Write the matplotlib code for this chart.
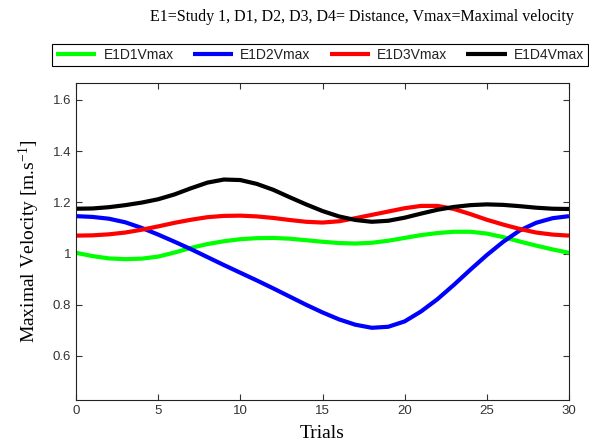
import numpy as np
import matplotlib
matplotlib.use("Agg")
import matplotlib.pyplot as plt
from matplotlib.ticker import FormatStrFormatter

plt.rcParams["mathtext.fontset"] = "custom"
plt.rcParams["mathtext.rm"] = "Liberation Serif"
plt.rcParams["mathtext.it"] = "Liberation Serif:italic"

# Trials and velocity values
trials = list(range(31))

e1d1 = [1.003, 0.990, 0.981, 0.978, 0.980, 0.988, 1.004, 1.022, 1.037, 1.048,
        1.056, 1.060, 1.061, 1.058, 1.052, 1.046, 1.041, 1.039, 1.042, 1.050,
        1.061, 1.072, 1.080, 1.085, 1.085, 1.078, 1.064, 1.047, 1.031, 1.016,
        1.003]
e1d2 = [1.146, 1.143, 1.136, 1.122, 1.100, 1.074, 1.046, 1.017, 0.986, 0.955,
        0.925, 0.895, 0.864, 0.832, 0.800, 0.770, 0.743, 0.722, 0.710, 0.714,
        0.735, 0.774, 0.822, 0.878, 0.937, 0.994, 1.046, 1.090, 1.120, 1.138,
        1.146]
e1d3 = [1.070, 1.071, 1.075, 1.082, 1.093, 1.106, 1.120, 1.132, 1.142, 1.147,
        1.148, 1.145, 1.139, 1.131, 1.124, 1.121, 1.126, 1.138, 1.151, 1.164,
        1.177, 1.186, 1.186, 1.174, 1.154, 1.132, 1.113, 1.096, 1.082, 1.074,
        1.070]
e1d4 = [1.175, 1.176, 1.181, 1.189, 1.199, 1.212, 1.231, 1.255, 1.277, 1.289,
        1.287, 1.272, 1.249, 1.220, 1.192, 1.166, 1.145, 1.131, 1.124, 1.128,
        1.140, 1.156, 1.171, 1.182, 1.189, 1.192, 1.190, 1.185, 1.179, 1.175,
        1.174]

labels = ["E1D1Vmax", "E1D2Vmax", "E1D3Vmax", "E1D4Vmax"]
colors = ["#00ff00", "#0000ff", "#ff0000", "#000000"]

fig = plt.figure(figsize=(5.89, 4.47), dpi=100)
ax = fig.add_axes([76 / 589, 47 / 447, 493 / 589, 317 / 447])

for y, lab, c in zip([e1d1, e1d2, e1d3, e1d4], labels, colors):
    ax.plot(trials, y, color=c, lw=3, label=lab,
            solid_joinstyle="round", solid_capstyle="butt")

ax.set_xlim(0, 30)
ax.set_ylim(0.428, 1.666)
ax.set_xticks([0, 5, 10, 15, 20, 25, 30])
ax.set_yticks([0.6, 0.8, 1.0, 1.2, 1.4, 1.6])
ax.yaxis.set_major_formatter(FormatStrFormatter("%g"))
ax.tick_params(direction="in", top=True, right=True, length=4,
               labelsize=9.5, colors="#333333", labelcolor="#333333")
for lbl in ax.get_xticklabels() + ax.get_yticklabels():
    lbl.set_family("Liberation Sans")
for s in ax.spines.values():
    s.set_color("#222222")

ax.set_xlabel("Trials", family="Liberation Serif", fontsize=14, labelpad=6)
ax.set_ylabel("Maximal Velocity [m.s$^{-1}$]", family="Liberation Serif",
              fontsize=14, labelpad=8)

fig.text(362 / 589, 1 - 17 / 447,
         "E1=Study 1, D1, D2, D3, D4= Distance, Vmax=Maximal velocity",
         family="Liberation Serif", fontsize=11.5, ha="center", va="center")

leg = fig.legend(loc="lower left", ncol=4, mode="expand",
                 bbox_to_anchor=(52 / 589, 1 - 66 / 447, 536 / 589, 24 / 447),
                 prop={"family": "Liberation Sans", "size": 10},
                 handlelength=2.9, handletextpad=0.5, columnspacing=0.6,
                 borderaxespad=0, fancybox=False, framealpha=1,
                 edgecolor="black", borderpad=0.3)
leg.get_frame().set_linewidth(0.8)
for t in leg.get_texts():
    t.set_color("#222222")

fig.savefig("out.png", dpi=100)
